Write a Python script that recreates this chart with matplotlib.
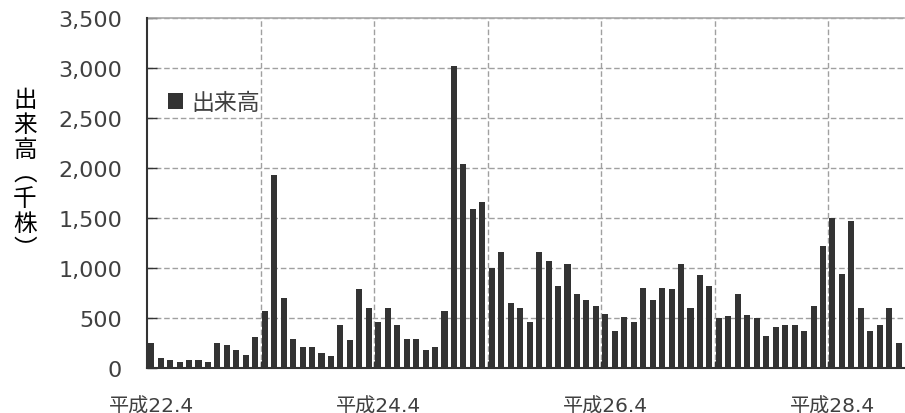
import numpy as np
import matplotlib
matplotlib.use("Agg")
import matplotlib.pyplot as plt

# DejaVu for the digits (close to Meiryo's Verdana-like numerals), CJK as fallback
plt.rcParams['font.family'] = ['DejaVu Sans', 'Noto Sans CJK JP']

# monthly volume (thousand shares), 平成22.4 onwards
volume = [250, 100, 80, 60, 80, 80, 60, 250, 230, 180, 130, 310,
          570, 1930, 700, 290, 210, 210, 150, 120, 430, 280, 790, 600,
          460, 600, 430, 290, 290, 180, 210, 570, 3020, 2040, 1590, 1660,
          1000, 1160, 650, 600, 460, 1160, 1070, 820, 1040, 740, 680, 620,
          540, 370, 510, 460, 800, 680, 800, 790, 1040, 600, 930, 820,
          500, 520, 740, 530, 500, 320, 410, 430, 430, 370, 620, 1220,
          1500, 940, 1470, 600, 370, 430, 600, 250]
tick_labels = ['平成22.4', '平成24.4', '平成26.4', '平成28.4']
tick_months = [0, 24, 48, 72]
series_name = '出来高'
ylabel = '出来高︵千株︶'

dark = '#333333'
txt = '#404040'
grid = '#a0a0a0'

fig = plt.figure(figsize=(9.05, 4.14), dpi=100)
ax = fig.add_axes([147/905, 1 - 369/414, 757/905, 350/414])

x = np.arange(len(volume))
ax.bar(x + 0.12, volume, width=0.64, align='edge', color=dark, label=series_name, zorder=3)

ax.set_xlim(0, len(volume))
ax.set_ylim(0, 3500)
ax.set_yticks(np.arange(0, 3501, 500))
ax.set_yticklabels(['{:,}'.format(v) for v in range(0, 3501, 500)])

# year boundaries: gridlines + small inside ticks
ax.set_xticks(np.arange(12, len(volume), 12))
ax.set_xticklabels([])
ax.set_xticks([m + 0.45 for m in tick_months], minor=True)
ax.set_xticklabels(tick_labels, minor=True)
ax.tick_params(axis='x', which='major', direction='in', length=5, width=1, color=dark)
ax.tick_params(axis='x', which='minor', length=0, pad=20, labelsize=14.5, labelcolor=txt)
ax.tick_params(axis='y', direction='in', length=7, width=1, color=dark,
               pad=18, labelsize=16, labelcolor=txt)

ax.grid(True, which='major', axis='both', linestyle=(0, (4, 2)), color=grid, linewidth=1, zorder=0)

for s in ['left', 'bottom']:
    ax.spines[s].set_color(dark)
    ax.spines[s].set_linewidth(1.5)
    ax.spines[s].set_zorder(4)
ax.spines['top'].set_color('#a8a8a8')
ax.spines['top'].set_linewidth(1.2)
ax.spines['right'].set_visible(False)

ax.legend(loc='upper left', bbox_to_anchor=(0.0, 0.85), frameon=False,
          fontsize=16.5, handlelength=0.65, handleheight=0.65, handletextpad=0.4,
          labelcolor=txt)

fig.text(25/905, 1 - 175/414, '\n'.join(ylabel), ha='center', va='center',
         fontsize=17, color='black', linespacing=1.1,
         family=['Noto Sans CJK JP', 'DejaVu Sans'])

fig.savefig('out.png', dpi=100)
